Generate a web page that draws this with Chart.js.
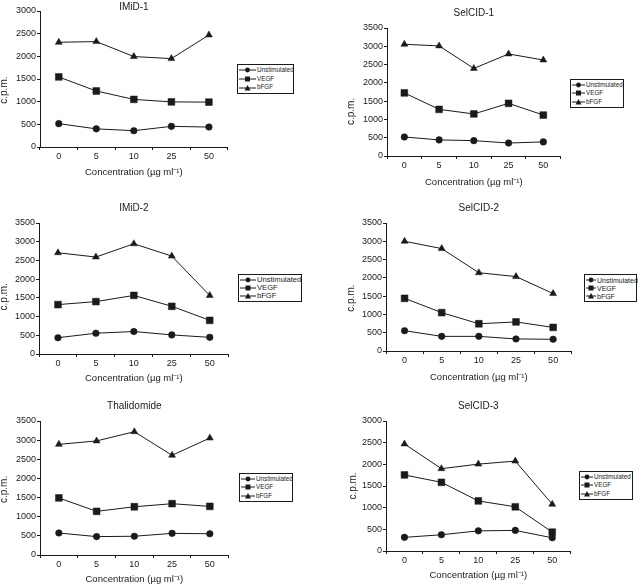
<!DOCTYPE html>
<html>
<head>
<meta charset="utf-8">
<script src="https://cdn.jsdelivr.net/npm/chart.js@4.4.1/dist/chart.umd.min.js"></script>
<style>
html, body { margin: 0; padding: 0; background: #fff; }
body { width: 642px; height: 586px; position: relative; overflow: hidden; font-family: "Liberation Sans", Arial, sans-serif; }
canvas { position: absolute; }
.legend { position: absolute; box-sizing: border-box; border: 1px solid #1a1a1a; display: flex; flex-direction: column; justify-content: space-around; padding: 1px 0 1px 1px; color: #1a1a1a; }
.legend-row { display: flex; align-items: center; white-space: nowrap; line-height: 1; }
.legend-row svg { flex: none; margin-right: 1px; }
</style>
</head>
<body>
<script>
// concentrations on the x axis (µg/ml)
const concentrations = ['0', '5', '10', '25', '50'];
const seriesNames = ['Unstimulated', 'VEGF', 'bFGF'];

// c.p.m.
const imid1Unstim = [515, 400, 360, 455, 440];
const imid1Vegf = [1545, 1235, 1050, 995, 990];
const imid1Bfgf = [2310, 2325, 1995, 1950, 2470];

const selcid1Unstim = [520, 440, 420, 355, 385];
const selcid1Vegf = [1725, 1275, 1150, 1440, 1120];
const selcid1Bfgf = [3055, 3010, 2395, 2790, 2625];

const imid2Unstim = [435, 555, 600, 510, 445];
const imid2Vegf = [1320, 1400, 1565, 1275, 900];
const imid2Bfgf = [2705, 2590, 2945, 2615, 1565];

const selcid2Unstim = [555, 400, 400, 330, 320];
const selcid2Vegf = [1440, 1050, 745, 795, 645];
const selcid2Bfgf = [3000, 2800, 2140, 2035, 1570];

const thalUnstim = [575, 480, 490, 565, 555];
const thalVegf = [1490, 1140, 1260, 1340, 1270];
const thalBfgf = [2890, 2980, 3220, 2605, 3055];

const selcid3Unstim = [315, 375, 465, 475, 305];
const selcid3Vegf = [1755, 1585, 1155, 1020, 435];
const selcid3Bfgf = [2470, 1900, 2005, 2075, 1080];

const panelTitles = ['IMiD-1', 'SelCID-1', 'IMiD-2', 'SelCID-2', 'Thalidomide', 'SelCID-3'];
const panelMax = [3000, 3500, 3500, 3500, 3500, 3000];
const panelSeries = [
    [imid1Unstim, imid1Vegf, imid1Bfgf],
    [selcid1Unstim, selcid1Vegf, selcid1Bfgf],
    [imid2Unstim, imid2Vegf, imid2Bfgf],
    [selcid2Unstim, selcid2Vegf, selcid2Bfgf],
    [thalUnstim, thalVegf, thalBfgf],
    [selcid3Unstim, selcid3Vegf, selcid3Bfgf]
];

const ink = '#1a1a1a';
const fontFamily = '"Liberation Sans", Arial, sans-serif';
const markers = [
    { style: 'circle', radius: 3.3 },
    { style: 'rect', radius: 4.8 },
    { style: 'triangle', radius: 4 }
];

// canvas box, y-axis width, x-axis height, top padding, title gap, y-title shift (spaces), legend box
const layouts = [
    { x: -2, y: 0, w: 235, h: 178, yw: 42, xh: 31, pad: 1, gap: -2, ys: 8, legend: [237, 64, 57, 30], lf: 6.3, lw: 17 },
    { x: 345, y: 0, w: 221, h: 188, yw: 42, xh: 32, pad: 7, gap: 9, ys: 14, legend: [570, 79, 54, 29], lf: 6.3, lw: 13 },
    { x: -2, y: 195, w: 236, h: 189, yw: 41, xh: 30, pad: 7, gap: 9, ys: 6, legend: [238, 274, 64, 28], lf: 7.6, lw: 16 },
    { x: 345, y: 195, w: 232, h: 188, yw: 41, xh: 32, pad: 7, gap: 9, ys: 8, legend: [584, 274, 53, 28], lf: 7, lw: 10 },
    { x: -2, y: 390, w: 236, h: 195, yw: 42, xh: 30, pad: 10, gap: 9, ys: 1, legend: [239, 473, 54, 29], lf: 6.3, lw: 14 },
    { x: 347, y: 390, w: 229, h: 191, yw: 39, xh: 30, pad: 10, gap: 9, ys: 0, legend: [579, 471, 54, 29], lf: 6.3, lw: 12 }
];

function markerSvg(style, width) {
    const c = width / 2;
    let shape;
    if (style === 'circle') shape = `<circle cx="${c}" cy="4" r="2.4"/>`;
    else if (style === 'rect') shape = `<rect x="${c - 2.5}" y="1.5" width="5" height="5"/>`;
    else shape = `<polygon points="${c},1 ${c + 3},6.5 ${c - 3},6.5"/>`;
    return `<svg width="${width}" height="8" viewBox="0 0 ${width} 8">` +
        `<line x1="0" y1="4" x2="${width}" y2="4" stroke="${ink}" stroke-width="1"/>` +
        `<g fill="${ink}">${shape}</g></svg>`;
}

function buildLegend(chart, box) {
    const [left, top, width, height] = box.legend;
    const div = document.createElement('div');
    div.className = 'legend';
    Object.assign(div.style, { left: left + 'px', top: top + 'px', width: width + 'px', height: height + 'px', fontSize: box.lf + 'px' });
    chart.data.datasets.forEach(ds => {
        const row = document.createElement('div');
        row.className = 'legend-row';
        row.innerHTML = markerSvg(ds.pointStyle, box.lw) + '<span>' + ds.label + '</span>';
        div.appendChild(row);
    });
    document.body.appendChild(div);
}

function createPanel(index) {
    const box = layouts[index];
    const canvas = document.createElement('canvas');
    canvas.width = box.w;
    canvas.height = box.h;
    canvas.style.left = box.x + 'px';
    canvas.style.top = box.y + 'px';
    document.body.appendChild(canvas);

    const datasets = seriesNames.map((name, i) => ({
        label: name,
        data: panelSeries[index][i],
        borderColor: ink,
        backgroundColor: ink,
        borderWidth: 1,
        tension: 0,
        pointStyle: markers[i].style,
        pointRadius: markers[i].radius,
        pointBorderWidth: 0.5,
        pointBorderColor: ink,
        pointBackgroundColor: ink
    }));

    const chart = new Chart(canvas, {
        type: 'line',
        data: { labels: concentrations, datasets: datasets },
        options: {
            responsive: false,
            animation: false,
            layout: { padding: { top: box.pad, left: 0, right: 0, bottom: 0 } },
            plugins: {
                legend: { display: false },
                tooltip: { enabled: false },
                title: {
                    display: true,
                    text: panelTitles[index],
                    fullSize: false,
                    color: ink,
                    font: { family: fontFamily, size: 10, weight: 'normal' },
                    padding: { top: 0, bottom: box.gap }
                }
            },
            scales: {
                x: {
                    offset: true,
                    border: { color: ink, width: 1 },
                    grid: { drawOnChartArea: false, offset: true, tickLength: 3, color: ink },
                    ticks: { color: ink, padding: 1, maxRotation: 0, font: { family: fontFamily, size: 9 } },
                    title: {
                        display: true,
                        text: 'Concentration (µg ml⁻¹)',
                        color: ink,
                        padding: 0,
                        font: { family: fontFamily, size: 9.5 }
                    },
                    afterFit: scale => { scale.height = box.xh; }
                },
                y: {
                    min: 0,
                    max: panelMax[index],
                    border: { color: ink, width: 1 },
                    grid: { drawOnChartArea: false, tickLength: 3, color: ink },
                    ticks: { stepSize: 500, color: ink, padding: 1, font: { family: fontFamily, size: 9 }, callback: v => String(v) },
                    title: {
                        display: true,
                        // trailing spaces push the rotated label down the axis like in the original
                        text: 'c.p.m.' + ' '.repeat(box.ys),
                        color: ink,
                        padding: 0,
                        font: { family: fontFamily, size: 10 }
                    },
                    afterFit: scale => { scale.width = box.yw; }
                }
            }
        }
    });

    buildLegend(chart, box);
}

document.addEventListener('DOMContentLoaded', () => {
    panelTitles.forEach((t, i) => createPanel(i));
});
</script>
</body>
</html>
